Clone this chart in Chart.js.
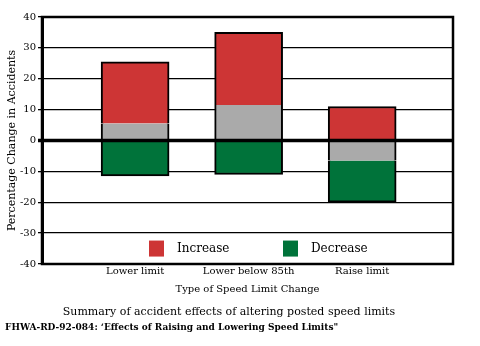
<!DOCTYPE html>
<html>
<head>
<meta charset="utf-8">
<script src="https://cdn.jsdelivr.net/npm/chart.js@4/dist/chart.umd.min.js"></script>
<style>
  html, body { margin: 0; padding: 0; background: #fff; }
  #wrap { width: 480px; height: 346px; }
</style>
</head>
<body>
<div id="wrap"><canvas id="speedChart" width="480" height="346"></canvas></div>
<script>
// data
const categories = ['Lower limit', 'Lower below 85th', 'Raise limit'];
const sameValues = [5.5, 11.5, -6.5];      // grey part (no legend entry)
const increaseValues = [20, 23.5, 11];
const decreaseValues = [-11.5, -11, -13.5];
const yTicks = [-40, -30, -20, -10, 0, 10, 20, 30, 40];

const RED = '#cd3535';
const GREEN = '#00733a';
const GREY = '#aaaaaa';

Chart.defaults.font.family = "'DejaVu Serif', serif";
Chart.defaults.color = '#000';

const toPoints = arr => arr.map((v, i) => ({ x: i, y: v }));

// frame around the plot + heavy zero line drawn over the bars
const framePlugin = {
  id: 'frame',
  afterDatasetsDraw(chart) {
    const { ctx, chartArea: a, scales } = chart;
    const y0 = scales.y.getPixelForValue(0);
    ctx.save();
    ctx.strokeStyle = '#000';
    ctx.lineWidth = 3.5;
    ctx.beginPath();
    ctx.moveTo(a.left - 4, y0);
    ctx.lineTo(a.right, y0);
    ctx.stroke();
    ctx.lineWidth = 2.5;
    ctx.strokeRect(a.left, a.top, a.right - a.left, a.bottom - a.top);
    ctx.restore();
  }
};

// legend sits inside the plot, between -30 and -40
const innerLegend = {
  id: 'innerLegend',
  afterDraw(chart) {
    const { ctx, chartArea: a, scales } = chart;
    const yc = scales.y.getPixelForValue(-35);
    const items = chart.data.datasets.filter(d => d.label);
    const offsets = [107, 241];
    ctx.save();
    ctx.font = "12px 'DejaVu Serif'";
    ctx.textBaseline = 'middle';
    items.forEach((d, i) => {
      const x = a.left + offsets[i];
      ctx.fillStyle = d.backgroundColor;
      ctx.fillRect(x, yc - 8, 15, 16);
      ctx.fillStyle = '#000';
      ctx.fillText(d.label, x + 28, yc);
    });
    ctx.restore();
  }
};

const ctx = document.getElementById('speedChart').getContext('2d');
const speedChart = new Chart(ctx, {
  type: 'bar',
  data: {
    datasets: [
      {
        label: '',
        data: toPoints(sameValues),
        backgroundColor: GREY,
        borderColor: '#000',
        borderWidth: { left: 2, right: 2, top: 0, bottom: 0 },
        borderSkipped: false
      },
      {
        label: 'Increase',
        data: toPoints(increaseValues),
        backgroundColor: RED,
        borderColor: '#000',
        borderWidth: 2,
        borderSkipped: 'start'
      },
      {
        label: 'Decrease',
        data: toPoints(decreaseValues),
        backgroundColor: GREEN,
        borderColor: '#000',
        borderWidth: 2,
        borderSkipped: 'start'
      }
    ]
  },
  options: {
    responsive: false,
    animation: false,
    barThickness: 68,
    layout: { padding: { left: 5, right: 27, top: 17, bottom: 13 } },
    plugins: {
      legend: { display: false },
      tooltip: { enabled: false },
      title: {
        display: true,
        position: 'bottom',
        text: 'Summary of accident effects of altering posted speed limits',
        font: { size: 11, weight: 'normal' },
        padding: { top: 11, bottom: 0 },
        weight: 1000
      },
      subtitle: {
        display: true,
        position: 'bottom',
        align: 'start',
        text: 'FHWA-RD-92-084: \u2018Effects of Raising and Lowering Speed Limits"',
        font: { size: 9, weight: 'bold' },
        padding: { top: 3, bottom: 0 },
        weight: 2000
      }
    },
    scales: {
      x: {
        type: 'linear',
        stacked: true,
        offset: false,
        min: -0.82,
        max: 2.8,
        grid: { display: false, drawTicks: false, tickLength: 0 },
        border: { display: false },
        afterBuildTicks(scale) {
          scale.ticks = categories.map((c, i) => ({ value: i }));
        },
        afterFit(scale) { scale.height = 31; },
        ticks: {
          autoSkip: false,
          maxRotation: 0,
          padding: 1,
          font: { size: 10 },
          callback: v => categories[v]
        },
        title: {
          display: true,
          text: 'Type of Speed Limit Change',
          font: { size: 10 },
          padding: 0
        }
      },
      y: {
        stacked: true,
        min: -40,
        max: 40,
        afterBuildTicks(scale) {
          scale.ticks = yTicks.map(v => ({ value: v }));
        },
        afterFit(scale) { scale.width = 37; },
        grid: { color: '#000', lineWidth: 1.3, tickLength: 4 },
        border: { display: true, color: '#000', width: 3 },
        ticks: { padding: 2, font: { size: 10 } },
        title: {
          display: true,
          text: 'Percentage Change in Accidents',
          font: { size: 11 },
          padding: { top: 1, bottom: 0 }
        }
      }
    }
  },
  plugins: [framePlugin, innerLegend]
});
</script>
</body>
</html>
